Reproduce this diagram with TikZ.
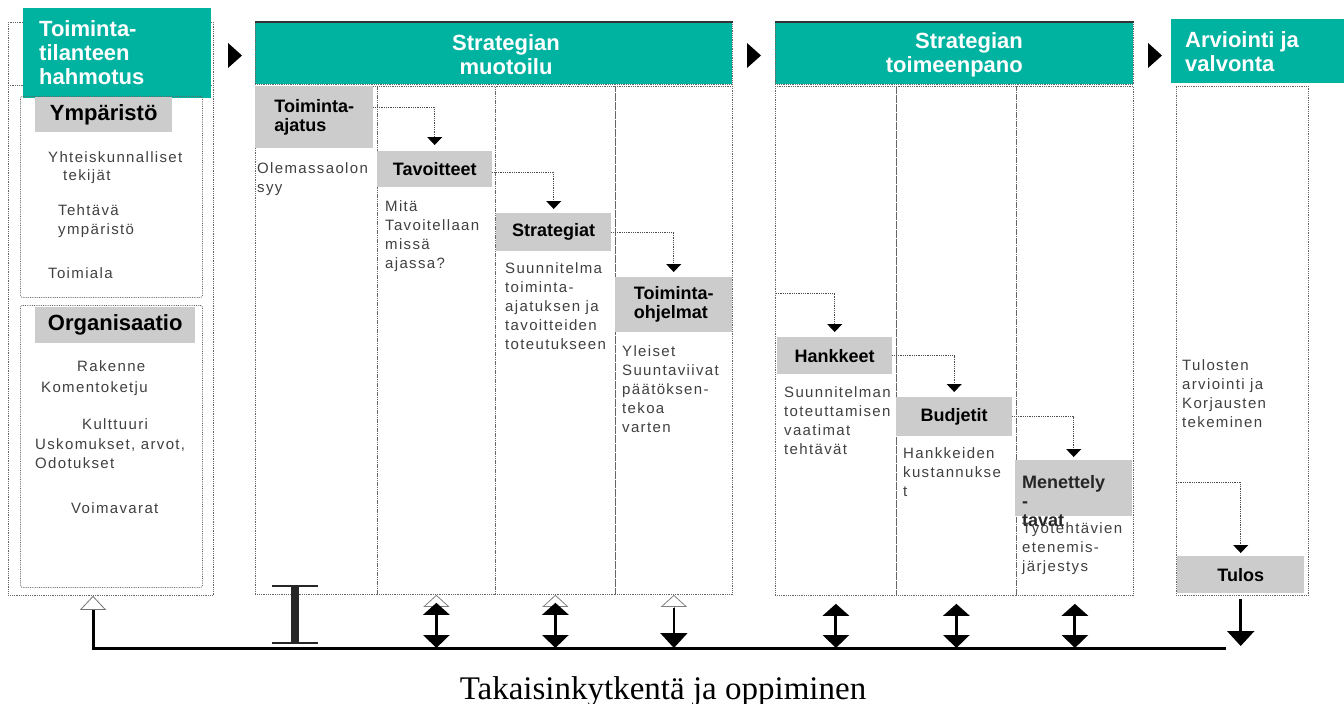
\documentclass[tikz,border=0pt]{standalone}
\usepackage{fontspec}
\usepackage{tikz}
\usepackage{xcolor}
\usetikzlibrary{arrows.meta,positioning}
\setsansfont{Liberation Sans}
\newfontfamily\bodyfont[LetterSpace=9]{Liberation Sans}
\newfontfamily\footfont{Liberation Serif}
\definecolor{phaseteal}{RGB}{0,178,160}
\definecolor{labelgrey}{RGB}{204,204,204}
\tikzset{
    phase-head/.style = {fill=phaseteal, inner sep=0pt, anchor=north west},
    phase-title/.style = {text=white, font=\sffamily\bfseries\fontsize{22}{24}\selectfont, inner sep=0pt},
    phase-col/.style = {draw=black!60, densely dotted, line width=0.8pt, inner sep=0pt, anchor=north west},
    head-top/.style = {draw=black!80, line width=1.5pt},
    env-box/.style = {phase-col, rounded corners=2pt},
    env-label/.style = {fill=labelgrey, font=\sffamily\bfseries\fontsize{22}{24}\selectfont, inner sep=0pt, anchor=north west},
    step-label/.style = {fill=labelgrey, font=\sffamily\bfseries\fontsize{18}{19}\selectfont, align=left, inner sep=0pt, anchor=north west},
    step-text/.style = {font={\bodyfont\fontsize{15}{19}\selectfont}, text=black!75, align=left, inner sep=0pt, anchor=base west},
    flow-arrow/.style = {draw=black!70, densely dotted, line width=0.8pt, -{Triangle[width=15pt,length=8pt,black]}},
    fb-line/.style = {draw=black, line width=3pt},
    fb-hollow/.style = {draw=black!50, line width=0.8pt, -{Triangle[open,fill=white,width=26pt,length=12pt,line width=0.8pt]}},
    fb-both/.style = {draw=black, line width=3pt, {Triangle[width=26pt,length=12pt]}-{Triangle[width=26pt,length=13pt]}},
    fb-down/.style = {draw=black, line width=2.5pt, -{Triangle[width=27pt,length=15pt]}},
    i-beam/.style = {draw=black!85, line width=8pt, {Bar[width=46pt,line width=2pt]}-{Bar[width=46pt,line width=2pt]}},
}
\begin{document}
\begin{tikzpicture}[x=1pt, y=-1pt]
\useasboundingbox (0,0) rectangle (1344,704);

\node[phase-col, minimum width=205pt, minimum height=573pt] (lp) at (8,22) {};
\draw[phase-col] (lp.west |- 0,85) -- (lp.east |- 0,85);
\node[phase-head, minimum width=188pt, minimum height=90pt] (sit) at (23,8) {};
\node[phase-title, align=left, anchor=west] (sit-t) at (39,53) {Toiminta-\\tilanteen\\hahmotus};

\node[env-box, minimum width=182pt, minimum height=201pt] (env) at (20,96) {};
\node[env-label, minimum width=137pt, minimum height=35pt] (env-l) at (35,97) {Ympäristö};
\node[step-text] (env-t1) at (48,162) {Yhteiskunnalliset};
\node[step-text] (env-t2) at (63,180) {tekijät};
\node[step-text] (env-t3) at (58,234) {Tehtävä\\ympäristö};
\node[step-text] (env-t4) at (48,278) {Toimiala};

\node[env-box, minimum width=182pt, minimum height=282pt] (org) at (20,305) {};
\node[env-label, minimum width=160pt, minimum height=36pt] (org-l) at (35,307) {Organisaatio};
\node[step-text] (org-t1) at (77,371) {Rakenne};
\node[step-text] (org-t2) at (41,392) {Komentoketju};
\node[step-text] (org-t3) at (82,429) {Kulttuuri};
\node[step-text] (org-t4) at (35,468) {Uskomukset, arvot,\\Odotukset};
\node[step-text] (org-t5) at (71,513) {Voimavarat};

\foreach \x in {228,747,1148}
    \fill (\x,43) -- ++(14,12.5) -- ++(-14,12.5) -- cycle;

\node[phase-head, phase-col, fill=phaseteal, minimum width=477pt, minimum height=62pt] (mh) at (255,22) {};
\draw[head-top] (mh.north west) -- (mh.north east);
\node[phase-title, align=center] (mh-t) at (506,55) {Strategian\\muotoilu};
\node[phase-col, minimum width=122pt, minimum height=508pt] (m1) at (255,86) {};
\node[phase-col, minimum width=118pt, minimum height=508pt] (m2) at (377,86) {};
\node[phase-col, minimum width=120pt, minimum height=508pt] (m3) at (495,86) {};
\node[phase-col, minimum width=117pt, minimum height=508pt] (m4) at (615,86) {};

\node[step-label, minimum width=118pt, minimum height=62pt] (ajatus) at (255,86) {Toiminta-\\ajatus};
\node[step-label, minimum width=115pt, minimum height=36pt] (tavoitteet) at (377,151) {Tavoitteet};
\node[step-label, minimum width=115pt, minimum height=38pt] (strategiat) at (496,213) {Strategiat};
\node[step-label, minimum width=117pt, minimum height=55pt] (ohjelmat) at (615,277) {Toiminta-\\ohjelmat};
\node[step-text] (ajatus-t) at (257,192) {Olemassaolon\\syy};
\node[step-text] (tavoitteet-t) at (385,268) {Mitä\\Tavoitellaan\\missä\\ajassa?};
\node[step-text] (strategiat-t) at (505,349) {Suunnitelma\\toiminta-\\ajatuksen ja\\tavoitteiden\\toteutukseen};
\node[step-text] (ohjelmat-t) at (622,432) {Yleiset\\Suuntaviivat\\päätöksen-\\tekoa\\varten};
\draw[flow-arrow] ([yshift=10pt]ajatus.east) -| ([yshift=6pt]tavoitteet.north);
\draw[flow-arrow] ([yshift=-3pt]tavoitteet.east) -| ([yshift=4pt]strategiat.north);
\draw[flow-arrow] (strategiat.east) -| ([yshift=5pt]ohjelmat.north);

\node[phase-head, phase-col, fill=phaseteal, minimum width=358pt, minimum height=62pt] (th) at (775,22) {};
\draw[head-top] (th.north west) -- (th.north east);
\node[phase-title, align=right, anchor=east] (th-t) at (1023,55) {Strategian\\toimeenpano};
\node[phase-col, minimum width=121pt, minimum height=509pt] (t1) at (775,86) {};
\node[phase-col, minimum width=120pt, minimum height=509pt] (t2) at (896,86) {};
\node[phase-col, minimum width=117pt, minimum height=509pt] (t3) at (1016,86) {};

\coordinate (hk-in) at (776,293);
\node[step-label, minimum width=115pt, minimum height=37pt] (hankkeet) at (777,337) {Hankkeet};
\node[step-label, minimum width=116pt, minimum height=39pt] (budjetit) at (896,397) {Budjetit};
\node[step-label, minimum width=117pt, minimum height=56pt] (menettely) at (1015,460) {};
\node[step-text, font=\sffamily\bfseries\fontsize{18}{19}\selectfont, text=black!85] (menettely-b) at (1022,526) {Menettely\\-\\tavat};
\node[step-text] (hankkeet-t) at (784,454) {Suunnitelman\\toteuttamisen\\vaatimat\\tehtävät};
\node[step-text] (budjetit-t) at (903,496) {Hankkeiden\\kustannukse\\t};
\node[step-text] (menettely-t) at (1022,571) {Työtehtävien\\etenemis-\\järjestys};
\draw[flow-arrow] (hk-in) -| ([yshift=5pt]hankkeet.north);
\draw[flow-arrow] (hankkeet.east) -| ([yshift=5pt]budjetit.north);
\draw[flow-arrow] (budjetit.east) -| ([yshift=3pt]menettely.north);

\node[phase-head, minimum width=173pt, minimum height=64pt] (ah) at (1171,19) {};
\node[phase-title, align=left, anchor=west] (ah-t) at (1185,52) {Arviointi ja\\valvonta};
\node[phase-col, minimum width=132pt, minimum height=509pt] (a1) at (1176,86) {};
\coordinate (tl-in) at (1176,482);
\node[step-text] (a1-t) at (1182,427) {Tulosten\\arviointi ja\\Korjausten\\tekeminen};
\node[step-label, align=center, minimum width=127pt, minimum height=37pt] (tulos) at (1177,556) {Tulos};
\draw[flow-arrow] (tl-in) -| ([yshift=3pt]tulos.north);

\coordinate (fbL) at (93,648);
\coordinate (fbR) at (1226,648);
\coordinate (ib) at (295,585);
\draw[fb-line, -{Triangle[open,fill=white,width=26pt,length=14pt,line width=0.8pt,color=black!55]}] (fbR) -- (fbL) -- (fbL |- lp.south);
\draw[i-beam] (ib) -- ([yshift=4pt]ib |- fbL);
\foreach \c in {m2,m3,m4}
    \draw[fb-hollow] ([yshift=-16pt]\c.south) -- (\c.south);
\foreach \c in {m2,m3,t1,t2,t3}
    \draw[fb-both] ([yshift=-8pt]\c.south) -- (\c.south |- fbL);
\draw[fb-down, line width=2pt] ([yshift=-13pt]m4.south) -- (m4.south |- fbL);
\draw[fb-down] ([yshift=-6pt]tulos.south) -- ([yshift=2pt]tulos.south |- fbL);

\node[font=\footfont\fontsize{33}{36}\selectfont, anchor=base] (feedback) at (663,699) {Takaisinkytkentä ja oppiminen};
\end{tikzpicture}
\end{document}
